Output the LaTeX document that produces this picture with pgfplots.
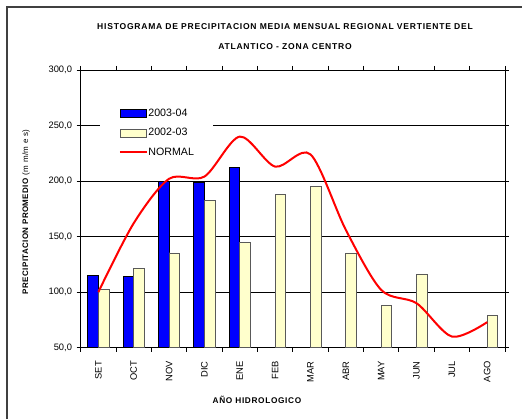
\documentclass[border=0pt]{standalone}
\usepackage{fontspec}
\setmainfont{Liberation Sans}
\usepackage{pgfplots}
\pgfplotsset{compat=1.18}
\definecolor{barblue}{RGB}{0,0,255}
\definecolor{barcream}{RGB}{255,255,204}
\newcommand{\ttlfont}{\fontsize{6.4}{15}\selectfont\bfseries\addfontfeature{LetterSpace=9}}

\begin{document}
\begin{tikzpicture}
\useasboundingbox (0,0) rectangle (391.5pt,314.25pt);
\draw[line width=1.5pt, black!75] (5pt,0) -- (5pt,309pt) -- (391.5pt,309pt);
\begin{axis}[
    at={(60.5pt,53.5pt)}, anchor=south west,
    scale only axis, width=318.2pt, height=208.3pt,
    xmin=0.5, xmax=12.5, ymin=50, ymax=300,
    xtick={1,...,12},
    xticklabels={SET,OCT,NOV,DIC,ENE,FEB,MAR,ABR,MAY,JUN,JUL,AGO},
    minor xtick={0.5,1.5,...,12.5},
    ytick={50,100,...,300},
    tick align=outside,
    major tick length=3pt, minor tick length=3pt,
    major x tick style={draw=none},
    tick style={black, line width=0.6pt},
    axis line style={black, line width=0.6pt},
    ymajorgrids, major grid style={black, line width=0.6pt},
    tick label style={font=\fontsize{7}{8}\selectfont},
    /pgf/number format/assume math mode=true,
    yticklabel style={/pgf/number format/fixed, /pgf/number format/fixed zerofill,
        /pgf/number format/precision=1, /pgf/number format/use comma},
    xticklabel style={rotate=90, anchor=east, inner xsep=7pt},
    legend style={draw=none, fill=white, at={(0.0455,0.887)}, anchor=north west,
        inner xsep=14pt, inner ysep=5pt, font=\fontsize{8}{9}\selectfont,
        row sep=6.2pt, nodes={inner sep=0.6pt}},
    legend cell align=left,
]
\addplot[ybar, bar width=0.3, bar shift=-0.15, fill=barblue, draw=black, line width=0.6pt,
    legend image code/.code={\draw[fill=barblue, draw=black, line width=0.6pt] (0pt,-3pt) rectangle (20pt,3pt);}]
    coordinates {(1,115) (2,114) (3,200) (4,198.5) (5,212)};
\addlegendentry{2003-04}
\addplot[ybar, bar width=0.3, bar shift=0.15, fill=barcream, draw=black!65, line width=0.6pt,
    legend image code/.code={\draw[fill=barcream, draw=black!65, line width=0.6pt] (0pt,-3pt) rectangle (20pt,3pt);}]
    coordinates {(1,102.5) (2,121.5) (3,135.3) (4,182.5) (5,144.6) (6,188.2)
                 (7,195) (8,135.3) (9,87.8) (10,116.4) (12,78.8)};
\addlegendentry{2002-03}
\addplot[red, line width=1.5pt, smooth, mark=none,
    legend image code/.code={\draw[red, line width=1.5pt] (0pt,0pt) -- (20pt,0pt);}]
    coordinates {(1,100) (2,162) (3,202) (4,204) (5,240) (6,213)
                 (7,224) (8,156) (9,102) (10,90) (11,60) (12,73)};
\addlegendentry{NORMAL}
\end{axis}
\node[align=center, font=\ttlfont] at (213.75pt,286.7pt)
    {HISTOGRAMA DE PRECIPITACION MEDIA MENSUAL REGIONAL VERTIENTE DEL\\ATLANTICO - ZONA CENTRO};
\node[font=\fontsize{6.2}{7}\selectfont\bfseries\addfontfeature{LetterSpace=8}] at (192.75pt,14.25pt) {AÑO HIDROLOGICO};
\node[rotate=90, font=\fontsize{6}{7}\selectfont\addfontfeature{LetterSpace=5}] at (19.5pt,155.25pt)
    {\textbf{PRECIPITACION PROMEDIO} (m m/m e s)};
\end{tikzpicture}
\end{document}
